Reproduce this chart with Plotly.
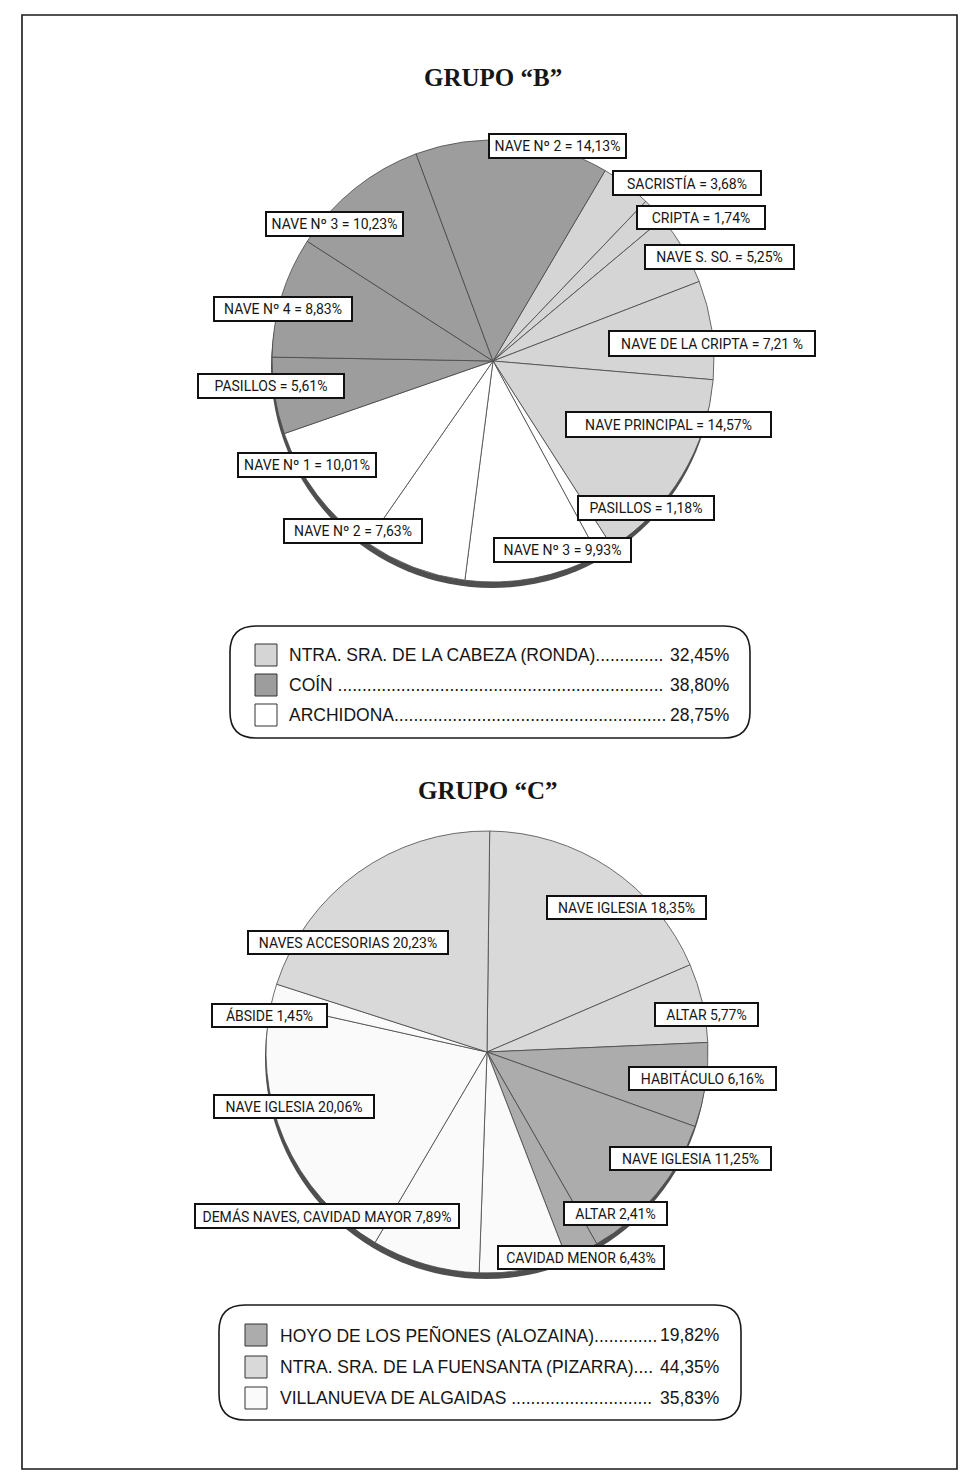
import plotly.graph_objects as go

W, H = 963, 1472

# ---------------- DATA ----------------
# Group B (clockwise from the SACRISTÍA slice)
b_labels = ["SACRISTÍA", "CRIPTA", "NAVE S. SO.", "NAVE DE LA CRIPTA", "NAVE PRINCIPAL",
            "PASILLOS", "NAVE Nº 3", "NAVE Nº 2", "NAVE Nº 1",
            "PASILLOS", "NAVE Nº 4", "NAVE Nº 3", "NAVE Nº 2"]
b_values = [3.68, 1.74, 5.25, 7.21, 14.57,
            1.18, 9.93, 7.63, 10.01,
            5.61, 8.83, 10.23, 14.13]
b_site = [0, 0, 0, 0, 0, 2, 2, 2, 2, 1, 1, 1, 1]
b_legend_names = ["NTRA. SRA. DE LA CABEZA (RONDA)", "COÍN", "ARCHIDONA"]
b_legend_values = [32.45, 38.80, 28.75]

# Group C (clockwise from the top)
c_labels = ["NAVE IGLESIA", "ALTAR", "HABITÁCULO", "NAVE IGLESIA", "ALTAR",
            "CAVIDAD MENOR", "DEMÁS NAVES, CAVIDAD MAYOR", "NAVE IGLESIA", "ÁBSIDE",
            "NAVES ACCESORIAS"]
c_values = [18.35, 5.77, 6.16, 11.25, 2.41, 6.43, 7.89, 20.06, 1.45, 20.23]
c_site = [1, 1, 0, 0, 0, 2, 2, 2, 2, 1]
c_legend_names = ["HOYO DE LOS PEÑONES (ALOZAINA)", "NTRA. SRA. DE LA FUENSANTA (PIZARRA)",
                  "VILLANUEVA DE ALGAIDAS"]
c_legend_values = [19.82, 44.35, 35.83]

# ---------------- STYLE / LAYOUT ----------------
b_colors = ["#d5d5d5", "#9d9d9d", "#ffffff"]
c_colors = ["#acacac", "#d9d9d9", "#fafafa"]

B_CENTER, B_R, B_ROT = (493, 361), 221, 30.5
C_CENTER, C_R, C_ROT = (487, 1052), 221, 0.7

# label boxes: (x0, x1, y0, y1) in pixels
b_boxes = [(612, 762, 170, 196), (636, 766, 205, 230), (644, 795, 244, 270),
           (608, 816, 330, 357), (565, 772, 411, 438), (577, 715, 495, 521),
           (493, 632, 537, 563), (283, 423, 518, 544), (237, 377, 452, 478),
           (197, 345, 373, 399), (213, 353, 296, 322), (265, 404, 211, 237),
           (488, 627, 133, 159)]
c_boxes = [(546, 707, 895, 920), (654, 759, 1002, 1027), (628, 777, 1066, 1091),
           (609, 772, 1146, 1171), (563, 668, 1201, 1226), (497, 665, 1245, 1270),
           (194, 460, 1203, 1229), (213, 375, 1094, 1119), (211, 328, 1003, 1028),
           (247, 449, 930, 955)]

LABEL_FONT = dict(family="Roboto, Liberation Sans, sans-serif", size=14, color="#161616")
LEG_FONT_SIZE = 17.5
LEG_FONT = dict(family="Liberation Sans, Arial, sans-serif", size=LEG_FONT_SIZE, color="#161616")
TITLE_FONT = dict(family="Liberation Serif, Times New Roman, serif", size=25, color="#161616")


def px(x):
    return x / W


def py(y):
    return 1 - y / H


def fmt(v):
    return f"{v:.2f}".replace(".", ",")


def domain(center, r):
    cx, cy = center
    return dict(x=[px(cx - r), px(cx + r)], y=[py(cy + r), py(cy - r)])


ARIAL = {' ': 278, '.': 278, '(': 333, ')': 333, ',': 278, '%': 889,
         'A': 667, 'B': 667, 'C': 722, 'D': 722, 'E': 667, 'F': 611, 'G': 778, 'H': 722,
         'I': 278, 'L': 556, 'N': 722, 'O': 778, 'P': 667, 'R': 722, 'S': 667, 'T': 611,
         'U': 722, 'V': 667, 'Y': 667, 'Z': 611, 'Í': 278, 'Ñ': 722}


def tw(s, size):
    return sum(ARIAL.get(ch, 600 if not ch.isdigit() else 556) for ch in s) * size / 1000.0


fig = go.Figure()
shapes = []
annotations = []


def add_pie(values, sites, colors, center, r, rot, names):
    fig.add_trace(go.Pie(
        values=values,
        sort=False,
        direction="clockwise",
        rotation=rot,
        marker=dict(colors=[colors[s] for s in sites], line=dict(color="#4a4a4a", width=0.8)),
        textinfo="none",
        hovertext=names,
        hoverinfo="text+percent",
        domain=domain(center, r),
        showlegend=False,
    ))
    cx, cy = center
    # shadow rim under pie
    shapes.append(dict(type="circle", xref="paper", yref="paper", layer="below",
                       x0=px(cx - r - 1), x1=px(cx + r - 1), y0=py(cy + r + 6), y1=py(cy - r + 6),
                       fillcolor="#4f4f4f", line=dict(width=0)))


def add_labels(texts, boxes):
    bw, pad = 2, 1
    for t, (x0, x1, y0, y1) in zip(texts, boxes):
        annotations.append(dict(
            x=px((x0 + x1) / 2), y=py((y0 + y1) / 2), xref="paper", yref="paper",
            xanchor="center", yanchor="middle", showarrow=False,
            text=t, font=LABEL_FONT, align="center",
            width=(x1 - x0) - 2 * (bw + pad), height=(y1 - y0) - 2 * (bw + pad),
            bgcolor="#ffffff", bordercolor="#111111", borderwidth=bw, borderpad=pad,
            valign="middle"))


def rounded_rect(x0, y0, x1, y1, rad):
    X0, X1 = px(x0), px(x1)
    Y0, Y1 = py(y0), py(y1)
    rx, ry = rad / W, rad / H
    return (f"M {X0 + rx} {Y0} L {X1 - rx} {Y0} Q {X1} {Y0} {X1} {Y0 - ry} "
            f"L {X1} {Y1 + ry} Q {X1} {Y1} {X1 - rx} {Y1} "
            f"L {X0 + rx} {Y1} Q {X0} {Y1} {X0} {Y1 + ry} "
            f"L {X0} {Y0 - ry} Q {X0} {Y0} {X0 + rx} {Y0} Z")


def add_legend(names, values, colors, box, rows_y, sw_x, text_x, val_right, gaps):
    x0, y0, x1, y1 = box
    shapes.append(dict(type="path", xref="paper", yref="paper", path=rounded_rect(x0, y0, x1, y1, 26),
                       line=dict(color="#1a1a1a", width=1.6), fillcolor="rgba(0,0,0,0)"))
    for name, v, col, ry, gap in zip(names, values, colors, rows_y, gaps):
        shapes.append(dict(type="rect", xref="paper", yref="paper",
                           x0=px(sw_x), x1=px(sw_x + 22), y0=py(ry + 11), y1=py(ry - 11),
                           fillcolor=col, line=dict(color="#333333", width=1)))
        val = fmt(v) + "%"
        val_left = val_right - tw(val, LEG_FONT_SIZE)
        base = name + gap
        dot_w = tw(".", LEG_FONT_SIZE)
        n = int((val_left - 6 - (text_x + tw(base, LEG_FONT_SIZE))) / dot_w)
        annotations.append(dict(x=px(text_x), y=py(ry), xref="paper", yref="paper",
                                xanchor="left", yanchor="middle", showarrow=False,
                                text=base + "." * max(n, 0), font=LEG_FONT))
        annotations.append(dict(x=px(val_right), y=py(ry), xref="paper", yref="paper",
                                xanchor="right", yanchor="middle", showarrow=False,
                                text=val, font=LEG_FONT))


# Group B
add_pie(b_values, b_site, b_colors, B_CENTER, B_R, B_ROT, b_labels)
b_pct = ["%"] * len(b_values)
b_pct[3] = " %"
add_labels([f"{l} = {fmt(v)}{p}" for l, v, p in zip(b_labels, b_values, b_pct)], b_boxes)
add_legend(b_legend_names, b_legend_values, b_colors, (230, 626, 750, 738),
           [655, 685, 715], 255, 287, 731, ["", " ", ""])

# Group C
add_pie(c_values, c_site, c_colors, C_CENTER, C_R, C_ROT, c_labels)
add_labels([f"{l} {fmt(v)}%" for l, v in zip(c_labels, c_values)], c_boxes)
add_legend(c_legend_names, c_legend_values, c_colors, (219, 1305, 741, 1420),
           [1335, 1367, 1398], 245, 278, 721, ["", "", " "])

# Titles
annotations.append(dict(x=px(493), y=py(78), xref="paper", yref="paper", showarrow=False,
                        xanchor="center", yanchor="middle", text="<b>GRUPO “B”</b>", font=TITLE_FONT))
annotations.append(dict(x=px(488), y=py(790), xref="paper", yref="paper", showarrow=False,
                        xanchor="center", yanchor="middle", text="<b>GRUPO “C”</b>", font=TITLE_FONT))

# Page frame
shapes.append(dict(type="rect", xref="paper", yref="paper", layer="below",
                   x0=px(22), x1=px(957), y0=py(1469), y1=py(15),
                   line=dict(color="#1a1a1a", width=1.6), fillcolor="rgba(0,0,0,0)"))

fig.update_layout(
    width=W, height=H,
    margin=dict(l=0, r=0, t=0, b=0),
    paper_bgcolor="#ffffff", plot_bgcolor="#ffffff",
    shapes=shapes, annotations=annotations,
    showlegend=False,
)

fig.write_html("out.html",
               config={"displayModeBar": False},
               post_script="document.body.style.margin='0px';document.body.style.overflow='hidden';")
